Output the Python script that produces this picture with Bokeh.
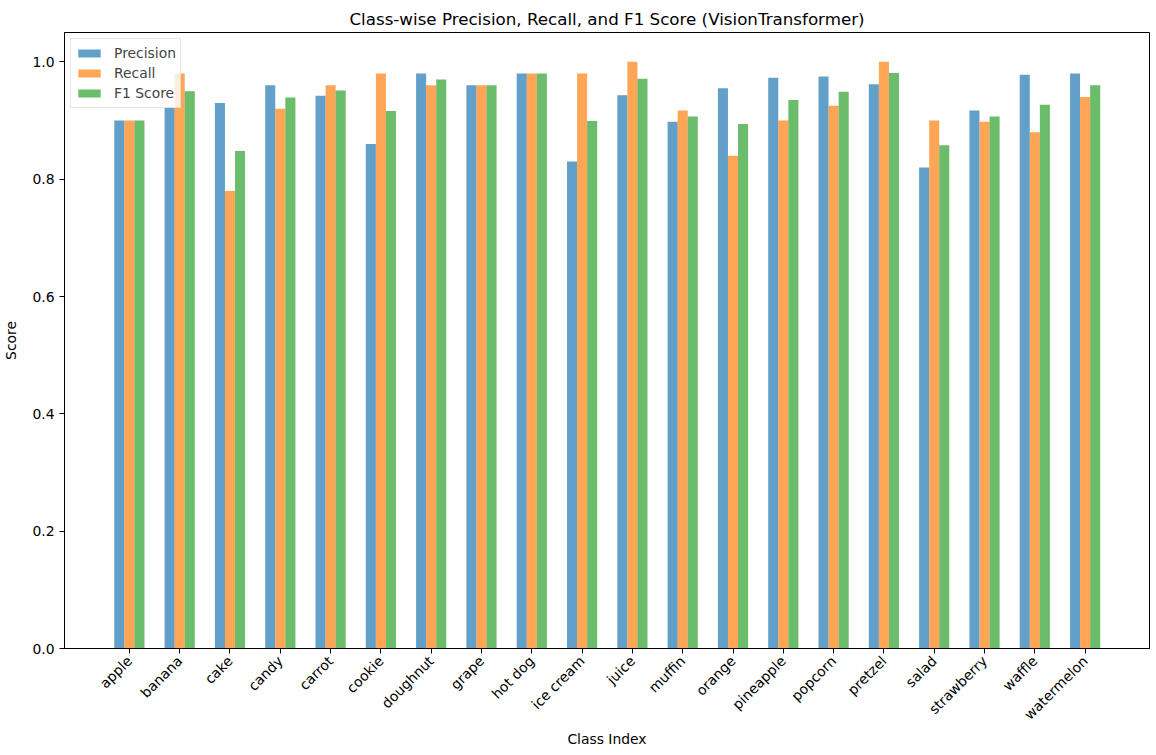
import numpy as np
from bokeh.plotting import figure
from bokeh.models import ColumnDataSource, Range1d, FixedTicker, PrintfTickFormatter, Legend, LegendItem
from bokeh.transform import dodge
from bokeh.embed import file_html
from bokeh.resources import INLINE
from math import pi

classes = ["apple", "banana", "cake", "candy", "carrot", "cookie", "doughnut", "grape",
           "hot dog", "ice cream", "juice", "muffin", "orange", "pineapple", "popcorn",
           "pretzel", "salad", "strawberry", "waffle", "watermelon"]
precision = [0.90, 0.922, 0.93, 0.96, 0.942, 0.86, 0.98, 0.96, 0.98, 0.83, 0.943, 0.898,
             0.955, 0.973, 0.975, 0.962, 0.82, 0.917, 0.978, 0.98]
recall = [0.90, 0.98, 0.78, 0.92, 0.96, 0.98, 0.96, 0.96, 0.98, 0.98, 1.00, 0.917,
          0.84, 0.90, 0.925, 1.00, 0.90, 0.898, 0.88, 0.94]
f1 = [0.90, 0.95, 0.848, 0.939, 0.951, 0.916, 0.97, 0.96, 0.98, 0.899, 0.971, 0.907,
      0.894, 0.935, 0.949, 0.981, 0.858, 0.907, 0.927, 0.96]
y_ticks = [0.0, 0.2, 0.4, 0.6, 0.8, 1.0]

idx = list(range(len(classes)))
src = ColumnDataSource(dict(idx=idx, precision=precision, recall=recall, f1=f1))

FONT = "DejaVu Sans"
p = figure(output_backend="svg", toolbar_location=None,
           frame_width=1085, frame_height=616,
           min_border_left=58, min_border_right=2, min_border_top=32, min_border_bottom=99,
           x_range=Range1d(-1.29, 20.28), y_range=Range1d(0, 1.05),
           title="Class-wise Precision, Recall, and F1 Score (VisionTransformer)")

p.title.align = "center"
p.title.text_font = FONT
p.title.text_font_size = "16.7px"
p.title.text_font_style = "normal"
p.title.text_color = "black"
p.title.standoff = 8

w = 0.2
r1 = p.vbar(x=dodge("idx", -0.2), top="precision", width=w, source=src,
            fill_color="#1f77b4", fill_alpha=0.7, line_color=None)
r2 = p.vbar(x=dodge("idx", 0.0), top="recall", width=w, source=src,
            fill_color="#ff7f0e", fill_alpha=0.7, line_color=None)
r3 = p.vbar(x=dodge("idx", 0.2), top="f1", width=w, source=src,
            fill_color="#2ca02c", fill_alpha=0.7, line_color=None)

legend = Legend(items=[LegendItem(label="Precision", renderers=[r1]),
                       LegendItem(label="Recall", renderers=[r2]),
                       LegendItem(label="F1 Score", renderers=[r3])],
                location="top_left", margin=6, padding=4, spacing=0,
                glyph_width=28, glyph_height=10, label_height=20, label_standoff=11,
                label_text_font=FONT, label_text_font_size="13.9px",
                border_line_color="#cccccc", border_line_width=1,
                background_fill_color="white", background_fill_alpha=0.8)
p.add_layout(legend)

p.xgrid.visible = False
p.ygrid.visible = False
p.outline_line_color = "black"
p.outline_line_alpha = 1.0

xa = p.xaxis[0]
xa.ticker = FixedTicker(ticks=idx)
xa.major_label_overrides = {i: c for i, c in zip(idx, classes)}
xa.major_label_orientation = pi / 4
xa.axis_label = "Class Index"

ya = p.yaxis[0]
ya.ticker = FixedTicker(ticks=y_ticks)
ya.formatter = PrintfTickFormatter(format="%.1f")
ya.axis_label = "Score"

for ax in (xa, ya):
    ax.axis_line_color = "black"
    ax.major_tick_line_color = "black"
    ax.major_tick_out = 5
    ax.major_tick_in = 0
    ax.minor_tick_line_color = None
    ax.major_label_text_font = FONT
    ax.major_label_text_font_size = "13.9px"
    ax.major_label_text_color = "black"
    ax.major_label_standoff = 5
    ax.axis_label_text_font = FONT
    ax.axis_label_text_font_size = "13.9px"
    ax.axis_label_text_font_style = "normal"
    ax.axis_label_text_color = "black"
ya.axis_label_standoff = 10
xa.axis_label_standoff = 0

open("out.html", "w").write(file_html(p, INLINE))
